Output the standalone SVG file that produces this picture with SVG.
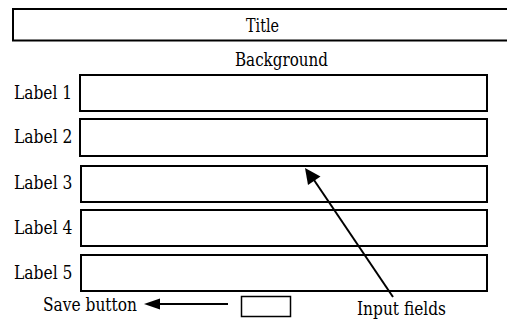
<svg xmlns="http://www.w3.org/2000/svg" width="507" height="322" viewBox="0 0 507 322">
<style>
  .t { font-family: "DejaVu Serif", "Liberation Serif", serif; font-size: 18px; fill: #000; }
  .box { fill: #fff; stroke: #000; stroke-width: 2; }
  .btn { fill: #fff; stroke: #000; stroke-width: 1.5; }
  .conn { stroke: #000; stroke-width: 2; fill: none; }
  .head { fill: #000; stroke: none; }
</style>
<rect width="507" height="322" fill="#fff"/>
<g id="title">
  <rect class="box" x="13" y="9" width="510" height="31.5"/>
  <text class="t" x="246" y="31.5" textLength="33" lengthAdjust="spacingAndGlyphs">Title</text>
</g>
<g id="background">
  <text class="t" x="235" y="66" textLength="93" lengthAdjust="spacingAndGlyphs">Background</text>
</g>
<g id="field1">
  <text class="t" x="14" y="98.5" textLength="58" lengthAdjust="spacingAndGlyphs">Label 1</text>
  <rect class="box" x="80" y="75" width="407" height="36"/>
</g>
<g id="field2">
  <text class="t" x="14" y="142.5" textLength="58.5" lengthAdjust="spacingAndGlyphs">Label 2</text>
  <rect class="box" x="80" y="119" width="407" height="37"/>
</g>
<g id="field3">
  <text class="t" x="14" y="189" textLength="58.5" lengthAdjust="spacingAndGlyphs">Label 3</text>
  <rect class="box" x="81" y="166" width="406" height="36"/>
</g>
<g id="field4">
  <text class="t" x="14" y="234" textLength="58.5" lengthAdjust="spacingAndGlyphs">Label 4</text>
  <rect class="box" x="81" y="210" width="406" height="36"/>
</g>
<g id="field5">
  <text class="t" x="14" y="279" textLength="58.5" lengthAdjust="spacingAndGlyphs">Label 5</text>
  <rect class="box" x="81" y="255" width="406" height="36"/>
</g>
<g id="save-button">
  <rect class="btn" x="241.5" y="296.5" width="49" height="20"/>
</g>
<g id="save-label">
  <text class="t" x="43" y="310.5" textLength="94" lengthAdjust="spacingAndGlyphs">Save button</text>
</g>
<g id="input-label">
  <text class="t" x="357" y="315" textLength="89" lengthAdjust="spacingAndGlyphs">Input fields</text>
</g>
<g id="connectors">
  <line class="conn" x1="228" y1="304" x2="156" y2="304"/>
  <polygon class="head" points="144,304 160,298.5 160,309.5"/>
  <line class="conn" x1="393" y1="297" x2="314" y2="180"/>
  <polygon class="head" points="305,168 320.5,176.5 308,185"/>
</g>
</svg>
